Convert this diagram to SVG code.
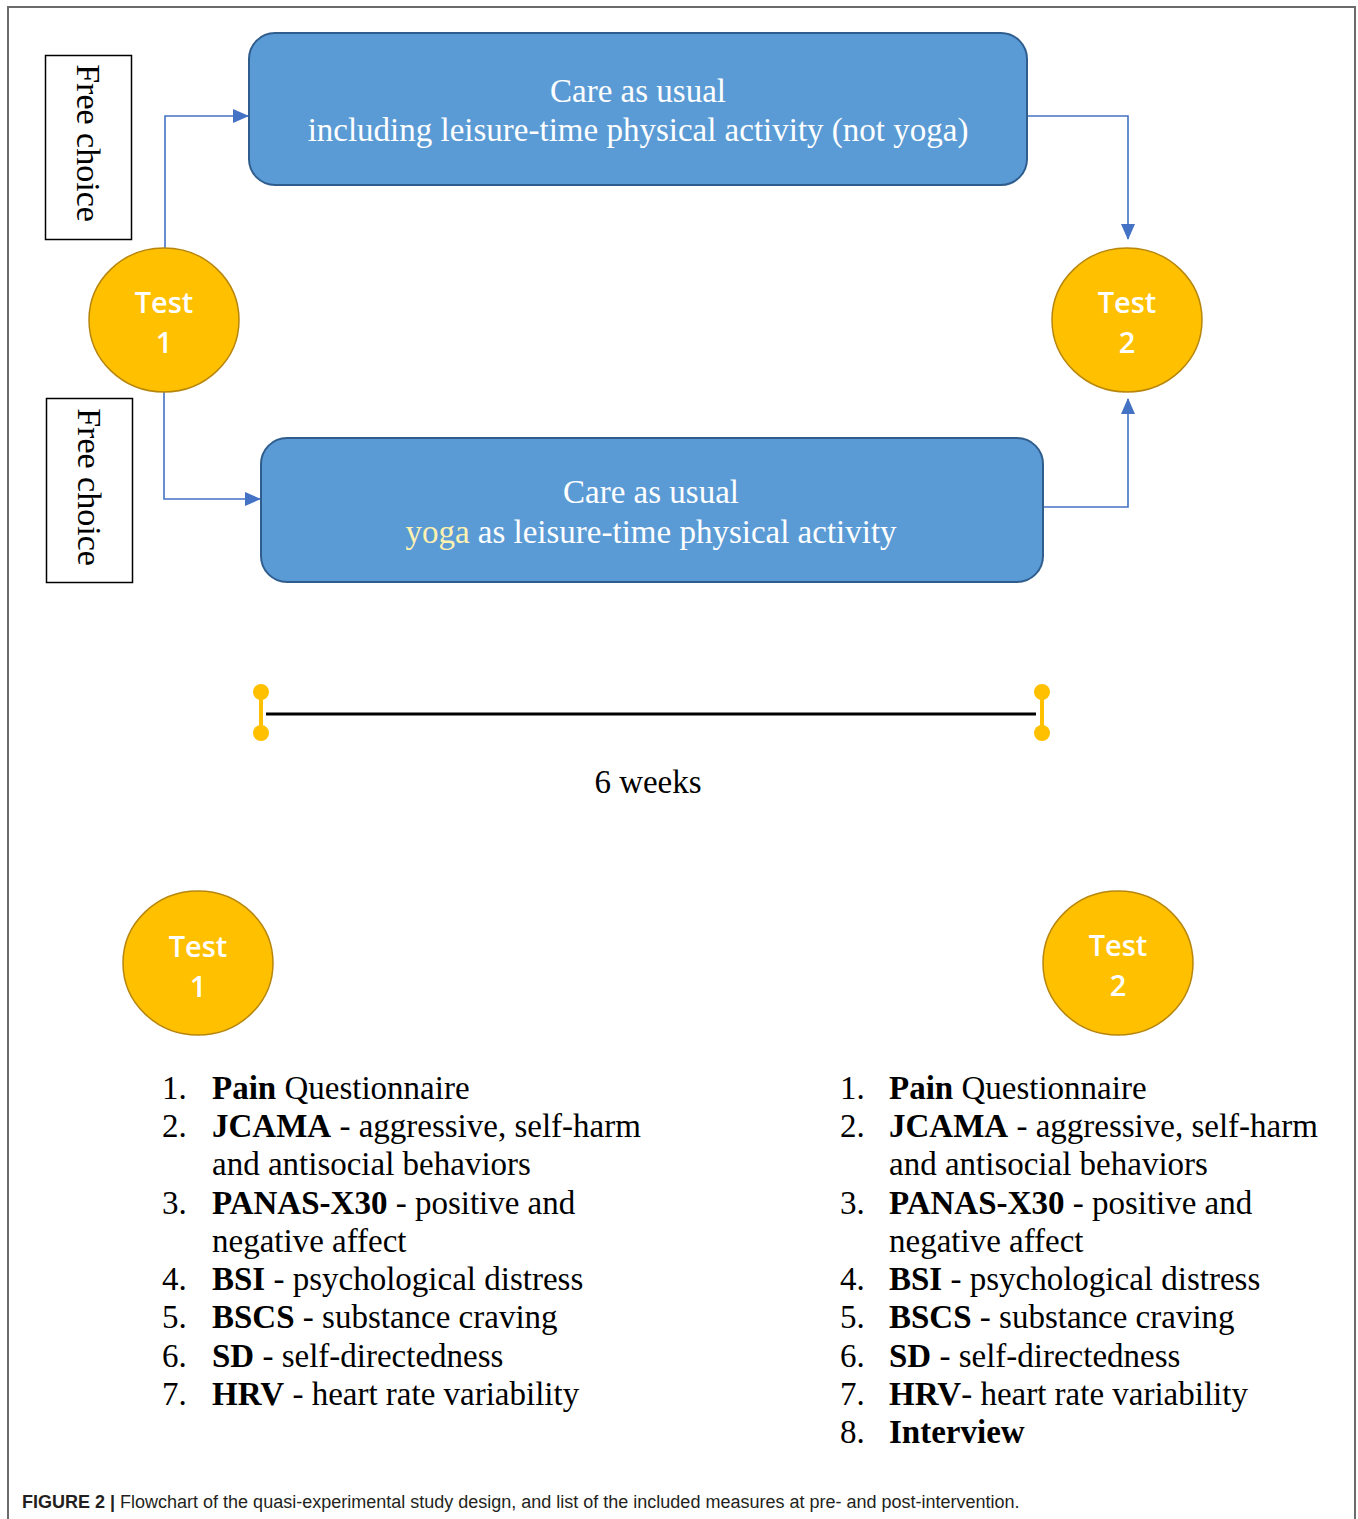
<svg xmlns="http://www.w3.org/2000/svg" width="1358" height="1519" viewBox="0 0 1358 1519">
<defs>
<style>
.frame{fill:none;stroke:#6b6b6b;stroke-width:2}
.choice{fill:#fff;stroke:#000;stroke-width:1.5}
.choicetxt{font-family:"Liberation Serif",serif;font-size:34px;fill:#000}
.blue{fill:#5B9BD5;stroke:#2F5E8E;stroke-width:2}
.boxtxt{font-family:"Liberation Serif",serif;font-size:33px;fill:#fff;text-anchor:middle}
.test{fill:#FFC000;stroke:#B8860B;stroke-width:1.5}
.testtxt{font-family:"Open Sans","Liberation Sans",sans-serif;font-size:29px;font-weight:600;fill:#fff;text-anchor:middle}
.conn{fill:none;stroke:#4472C4;stroke-width:1.6}
.list{font-family:"Liberation Serif",serif;font-size:33px;fill:#000}
.cap{font-family:"Liberation Sans",Arial,sans-serif;font-size:18px;fill:#231f20}
</style>
<marker id="arr" markerWidth="16" markerHeight="14" refX="15" refY="7" orient="auto" markerUnits="userSpaceOnUse" viewBox="0 0 16 14">
<path d="M0,0 L16,7 L0,14 z" fill="#4472C4"/>
</marker>
</defs>
<rect width="1358" height="1519" fill="#fff"/>
<path class="frame" d="M8,1519 V7 H1355 V1519"/>

<g id="connectors">
<path class="conn" d="M165,248 V116 H248" marker-end="url(#arr)"/>
<path class="conn" d="M164,392 V499 H260" marker-end="url(#arr)"/>
<path class="conn" d="M1027,116 H1128 V239" marker-end="url(#arr)"/>
<path class="conn" d="M1043,507 H1128 V399" marker-end="url(#arr)"/>
</g>

<g id="free-choice-1">
<rect class="choice" x="45.5" y="55.5" width="86" height="184"/>
<text class="choicetxt" transform="translate(77,143) rotate(90)" text-anchor="middle">Free choice</text>
</g>
<g id="free-choice-2">
<rect class="choice" x="46.5" y="398.5" width="86" height="184"/>
<text class="choicetxt" transform="translate(78,487) rotate(90)" text-anchor="middle">Free choice</text>
</g>

<g id="box-top">
<rect class="blue" x="249" y="33" width="778" height="152" rx="26"/>
<text class="boxtxt" x="638" y="102">Care as usual</text>
<text class="boxtxt" x="638" y="141">including leisure-time physical activity (not yoga)</text>
</g>
<g id="box-bottom">
<rect class="blue" x="261" y="438" width="782" height="144" rx="26"/>
<text class="boxtxt" x="651" y="503">Care as usual</text>
<text class="boxtxt" x="651" y="543"><tspan fill="#FFF2B0">yoga</tspan> as leisure-time physical activity</text>
</g>

<g id="test1-top">
<ellipse class="test" cx="164" cy="320" rx="75" ry="72"/>
<text class="testtxt" x="164" y="313">Test</text>
<text class="testtxt" x="164" y="353">1</text>
</g>
<g id="test2-top">
<ellipse class="test" cx="1127" cy="320" rx="75" ry="72"/>
<text class="testtxt" x="1127" y="313">Test</text>
<text class="testtxt" x="1127" y="353">2</text>
</g>

<g id="timeline">
<line x1="266" y1="714" x2="1036" y2="714" stroke="#000" stroke-width="3"/>
<line x1="261" y1="692" x2="261" y2="733" stroke="#FFC000" stroke-width="4"/>
<circle cx="261" cy="692" r="8" fill="#FFC000"/>
<circle cx="261" cy="733" r="8" fill="#FFC000"/>
<line x1="1042" y1="692" x2="1042" y2="733" stroke="#FFC000" stroke-width="4"/>
<circle cx="1042" cy="692" r="8" fill="#FFC000"/>
<circle cx="1042" cy="733" r="8" fill="#FFC000"/>
<text class="list" x="648" y="793" text-anchor="middle">6 weeks</text>
</g>

<g id="test1-bottom">
<ellipse class="test" cx="198" cy="963" rx="75" ry="72"/>
<text class="testtxt" x="198" y="957">Test</text>
<text class="testtxt" x="198" y="997">1</text>
</g>
<g id="test2-bottom">
<ellipse class="test" cx="1118" cy="963" rx="75" ry="72"/>
<text class="testtxt" x="1118" y="956">Test</text>
<text class="testtxt" x="1118" y="996">2</text>
</g>

<g id="list-pre" class="list">
<text x="162" y="1099">1.</text><text x="212" y="1099"><tspan font-weight="bold">Pain</tspan> Questionnaire</text>
<text x="162" y="1137">2.</text><text x="212" y="1137"><tspan font-weight="bold">JCAMA</tspan> - aggressive, self-harm</text>
<text x="212" y="1175">and antisocial behaviors</text>
<text x="162" y="1214">3.</text><text x="212" y="1214"><tspan font-weight="bold">PANAS-X30</tspan> - positive and</text>
<text x="212" y="1252">negative affect</text>
<text x="162" y="1290">4.</text><text x="212" y="1290"><tspan font-weight="bold">BSI</tspan> - psychological distress</text>
<text x="162" y="1328">5.</text><text x="212" y="1328"><tspan font-weight="bold">BSCS</tspan> - substance craving</text>
<text x="162" y="1367">6.</text><text x="212" y="1367"><tspan font-weight="bold">SD</tspan> - self-directedness</text>
<text x="162" y="1405">7.</text><text x="212" y="1405"><tspan font-weight="bold">HRV</tspan> - heart rate variability</text>
</g>

<g id="list-post" class="list">
<text x="840" y="1099">1.</text><text x="889" y="1099"><tspan font-weight="bold">Pain</tspan> Questionnaire</text>
<text x="840" y="1137">2.</text><text x="889" y="1137"><tspan font-weight="bold">JCAMA</tspan> - aggressive, self-harm</text>
<text x="889" y="1175">and antisocial behaviors</text>
<text x="840" y="1214">3.</text><text x="889" y="1214"><tspan font-weight="bold">PANAS-X30</tspan> - positive and</text>
<text x="889" y="1252">negative affect</text>
<text x="840" y="1290">4.</text><text x="889" y="1290"><tspan font-weight="bold">BSI</tspan> - psychological distress</text>
<text x="840" y="1328">5.</text><text x="889" y="1328"><tspan font-weight="bold">BSCS</tspan> - substance craving</text>
<text x="840" y="1367">6.</text><text x="889" y="1367"><tspan font-weight="bold">SD</tspan> - self-directedness</text>
<text x="840" y="1405">7.</text><text x="889" y="1405"><tspan font-weight="bold">HRV</tspan>- heart rate variability</text>
<text x="840" y="1443">8.</text><text x="889" y="1443" font-weight="bold">Interview</text>
</g>

<text class="cap" x="22" y="1508"><tspan font-weight="bold">FIGURE 2 |</tspan> Flowchart of the quasi-experimental study design, and list of the included measures at pre- and post-intervention.</text>
</svg>
